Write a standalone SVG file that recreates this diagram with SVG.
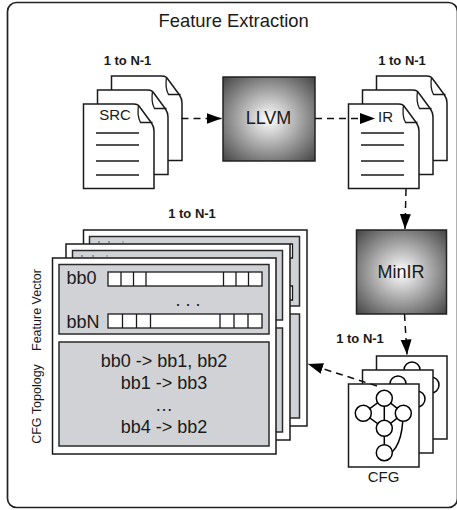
<svg xmlns="http://www.w3.org/2000/svg" width="457" height="510" viewBox="0 0 457 510">
<style>
text{font-family:"Liberation Sans",Arial,sans-serif;fill:#1a1a1a}
.o{fill:#fff;stroke:#1a1a1a;stroke-width:1.5}
.p{fill:#d0d2d6;stroke:#2a2a2a;stroke-width:1.5}
.b{fill:#fff;stroke:#1a1a1a;stroke-width:1.3}
.l{fill:none;stroke:#1a1a1a;stroke-width:1.3}
.c{fill:#fff;stroke:#000;stroke-width:1.5}
.e{fill:none;stroke:#000;stroke-width:1.5}
.d{fill:none;stroke:#111;stroke-width:1.5;stroke-dasharray:7 5}
.t{font-size:13px;font-weight:bold;text-anchor:middle}
.m{font-size:18px;text-anchor:middle}
.s{font-size:12.5px;text-anchor:middle}
</style>
<defs>
<radialGradient id="g" cx="50%" cy="50%" r="70%"><stop offset="0" stop-color="#fff"/><stop offset="1" stop-color="#454545"/></radialGradient>
<path id="doc" class="o" d="M0 0H50C54 0 55 1 57 4L68 19C70 22 70.500 24 70.500 27V84.500H0Z"/>
<path id="fold" class="l" d="M55 1C54 8 55 15 57 18.500H69"/>
<marker id="a" markerUnits="userSpaceOnUse" markerWidth="16" markerHeight="12" refX="15" refY="5.500" orient="auto"><path d="M0 0L15 5.500L0 11Z" fill="#000"/></marker>
<g id="ring"><circle class="c" r="8"/></g>
</defs>
<rect id="frame" x="7.500" y="2.500" width="450" height="505" rx="9" fill="#fff" stroke="#222" stroke-width="1.700"/>
<text x="233.700" y="26.700" text-anchor="middle" font-size="18.400">Feature Extraction</text>
<g id="src">
<text class="t" x="127.500" y="65">1 to N-1</text>
<use href="#doc" x="111.500" y="76"/><use href="#fold" x="111.500" y="76"/>
<use href="#doc" x="97.500" y="90"/><use href="#fold" x="97.500" y="90"/>
<use href="#doc" x="83.500" y="104"/><use href="#fold" x="83.500" y="104"/>
<text x="115" y="120" text-anchor="middle" font-size="15">SRC</text>
<path class="l" d="M96 133H139M96 145H139M96 161H139M96 175H139"/>
</g>
<g id="llvm"><rect x="223" y="77" width="92" height="84" fill="url(#g)" stroke="#222" stroke-width="1.500"/><text x="268.500" y="124" class="m">LLVM</text></g>
<g id="ir">
<text class="t" x="402" y="65">1 to N-1</text>
<use href="#doc" x="376.500" y="76"/><use href="#fold" x="376.500" y="76"/>
<use href="#doc" x="362.500" y="90"/><use href="#fold" x="362.500" y="90"/>
<use href="#doc" x="348.500" y="104"/><use href="#fold" x="348.500" y="104"/>
<text x="378" y="121.500" font-size="15">IR</text>
<path class="l" d="M361 133H404M361 145H404M361 161H404M361 175H404"/>
</g>
<g id="minir"><rect x="356.500" y="230" width="90" height="84" fill="url(#g)" stroke="#222" stroke-width="1.500"/><text x="401" y="277.500" class="m">MinIR</text></g>
<g id="features">
<text class="t" x="192" y="217.500">1 to N-1</text>
<rect class="o" x="83.500" y="230" width="223.500" height="196"/>
<rect class="p" x="89.500" y="236.500" width="210" height="69.500"/>
<rect class="p" x="89.500" y="314" width="210" height="104"/>
<path class="b" d="M290 244H292.500V258H290M290 286H292.500V300H290"/>
<rect x="98" y="241.500" width="2" height="1" fill="#555"/><rect x="108" y="241.500" width="2" height="1" fill="#555"/><rect x="122" y="241.500" width="2" height="1" fill="#888"/>
<rect class="o" x="66" y="244" width="224" height="196"/>
<rect class="p" x="72.500" y="250.500" width="210" height="69.500"/>
<rect class="p" x="72.500" y="328" width="210" height="104"/>
<rect x="81" y="255.500" width="2" height="1" fill="#555"/><rect x="92" y="255.500" width="2" height="1" fill="#555"/><rect x="106" y="255.500" width="2" height="1" fill="#888"/>
<rect class="o" x="52.500" y="258" width="223.500" height="196"/>
<rect class="p" x="59" y="264.500" width="210" height="69.500"/>
<rect class="p" x="59" y="342" width="210" height="104"/>
<text x="66.500" y="284" font-size="18">bb0</text>
<text x="66.500" y="328" font-size="18">bbN</text>
<rect class="b" x="108" y="272" width="154" height="14"/>
<rect class="b" x="108" y="314" width="154" height="14"/>
<path class="l" d="M121 272V286M133.500 272V286M146 272V286M223.500 272V286M236 272V286M248.500 272V286M122.500 314V328M136.500 314V328M150.500 314V328M220 314V328M234 314V328M248 314V328"/>
<text x="175.500" y="306" font-size="18">. . .</text>
<text class="m" x="164" y="367">bb0 -&gt; bb1, bb2</text>
<text class="m" x="164" y="389">bb1 -&gt; bb3</text>
<text class="m" x="164" y="411">…</text>
<text class="m" x="164" y="433">bb4 -&gt; bb2</text>
<text class="s" transform="translate(41 310) rotate(-90)">Feature Vector</text>
<text class="s" transform="translate(41 404) rotate(-90)">CFG Topology</text>
</g>
<g id="cfg">
<text class="t" x="360" y="343">1 to N-1</text>
<rect class="o" x="376.500" y="356" width="70.500" height="83"/>
<use href="#ring" x="412" y="370"/><use href="#ring" x="431" y="385"/>
<rect class="o" x="362.500" y="370" width="70.500" height="83"/>
<use href="#ring" x="398" y="384"/><use href="#ring" x="417" y="399"/>
<rect class="o" x="348.500" y="384" width="70.500" height="83"/>
<path class="e" d="M384.300 398V452M384.300 398L363.300 413.300L384.300 428.300L403.300 413.300L384.300 398M403 413C403 435 398 452 384.300 457"/>
<use href="#ring" x="384.300" y="398.300"/><use href="#ring" x="363.300" y="413.300"/><use href="#ring" x="403.300" y="413.300"/><use href="#ring" x="384.300" y="428.300"/><use href="#ring" x="384.300" y="452.700"/>
<text x="383.500" y="481.700" text-anchor="middle" font-size="15">CFG</text>
</g>
<g id="connectors">
<path class="d" d="M181.500 118.500H221.500" marker-end="url(#a)"/>
<path class="d" d="M315 118.500H375" marker-end="url(#a)"/>
<path class="d" d="M406 189L405 229" marker-end="url(#a)"/>
<path class="d" d="M404.500 314L407 354.500" marker-end="url(#a)"/>
<path class="d" d="M377 386L308 364" marker-end="url(#a)"/>
</g>
</svg>
